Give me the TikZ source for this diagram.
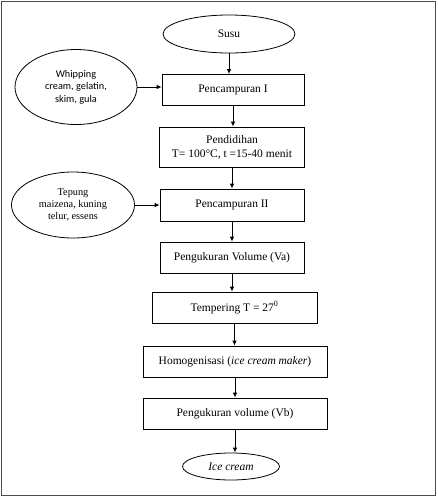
\documentclass[tikz,border=0pt]{standalone}
\usepackage{fontspec}
\setmainfont{Liberation Serif}
\newfontfamily\calib{Carlito}
\usetikzlibrary{shapes.geometric,arrows.meta}
\tikzset{
  box/.style={draw, line width=0.8pt, rectangle, inner sep=0pt, align=center, font=\fontsize{11.5}{14}\selectfont},
  oval/.style={draw, line width=0.8pt, ellipse, inner sep=0pt, align=center, font=\fontsize{11.5}{14}\selectfont},
  arr/.style={line width=0.9pt, -{Latex[length=5pt,width=4.5pt]}},
}
\begin{document}
\begin{tikzpicture}[x=1pt,y=-1pt]
\useasboundingbox (0,0) rectangle (438,499);
\draw[line width=1.5pt, gray!60!black] (1.5,1.5) rectangle (435.5,495.5);
\node[oval, minimum width=132pt, minimum height=38pt] (susu) at (229,34) {Susu};
\node[oval, minimum width=122pt, minimum height=75pt, font=\calib\fontsize{10.3}{12.5}\selectfont] (whip) at (76,87) {Whipping\\cream, gelatin,\\skim, gula};
\node[box, minimum width=142pt, minimum height=31pt] (p1) at (233,90) {Pencampuran I};
\node[box, minimum width=145pt, minimum height=40pt] (didih) at (232,147) {Pendidihan\\T= 100°C, t =15-40 menit};
\node[oval, minimum width=123pt, minimum height=66pt, font=\fontsize{10.3}{11.7}\selectfont] (tep) at (73,205) {Tepung\\maizena, kuning\\telur, essens};
\node[box, minimum width=144pt, minimum height=32pt] (p2) at (232,205) {Pencampuran II};
\node[box, minimum width=144pt, minimum height=31pt] (va) at (232,257.5) {Pengukuran Volume (Va)};
\node[box, minimum width=165pt, minimum height=31pt] (temp) at (234.5,307.5) {Tempering T = 27\textsuperscript{0}};
\node[box, minimum width=184pt, minimum height=31pt] (homo) at (235,361.5) {Homogenisasi (\textit{ice cream maker})};
\node[box, minimum width=184pt, minimum height=31pt] (vb) at (235,413.5) {Pengukuran volume (Vb)};
\node[oval, minimum width=97pt, minimum height=27pt] (ice) at (231,466.5) {\textit{Ice cream}};
\draw[arr] (susu.south) -- (susu.south |- p1.north);
\draw[arr] (whip.east) -- (whip.east -| p1.west);
\draw[arr] (p1.south) -- (p1.south |- didih.north);
\draw[arr] (didih.south) -- (didih.south |- p2.north);
\draw[arr] (tep.east) -- (tep.east -| p2.west);
\draw[arr] (p2.south) -- (p2.south |- va.north);
\draw[arr] (va.south) -- (va.south |- temp.north);
\draw[arr] (temp.south) -- (temp.south |- homo.north);
\draw[arr] (homo.south) -- (homo.south |- vb.north);
\draw[arr] (vb.south) -- (vb.south |- ice.north);
\end{tikzpicture}
\end{document}
